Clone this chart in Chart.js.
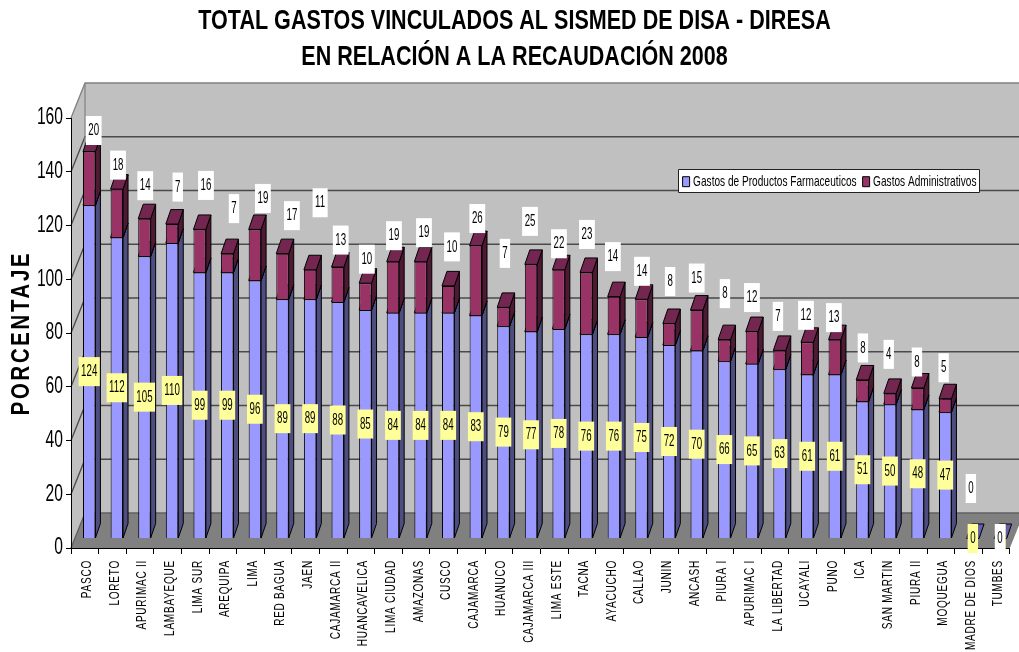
<!DOCTYPE html>
<html>
<head>
<meta charset="utf-8">
<style>html,body{margin:0;padding:0;background:#fff}canvas{display:block}</style>
<script src="https://cdn.jsdelivr.net/npm/chart.js@4/dist/chart.umd.min.js"></script>
</head>
<body>
<canvas id="c" width="1019" height="652"></canvas>
<script>
const categories = ["PASCO","LORETO","APURIMAC II","LAMBAYEQUE","LIMA SUR","AREQUIPA","LIMA","RED BAGUA","JAEN","CAJAMARCA II","HUANCAVELICA","LIMA CIUDAD","AMAZONAS","CUSCO","CAJAMARCA","HUANUCO","CAJAMARCA III","LIMA ESTE","TACNA","AYACUCHO","CALLAO","JUNIN","ANCASH","PIURA I","APURIMAC I","LA LIBERTAD","UCAYALI","PUNO","ICA","SAN MARTIN","PIURA II","MOQUEGUA","MADRE DE DIOS","TUMBES"];
const productos = [124,112,105,110,99,99,96,89,89,88,85,84,84,84,83,79,77,78,76,76,75,72,70,66,65,63,61,61,51,50,48,47,0,0];
const administrativos = [20,18,14,7,16,7,19,17,11,13,10,19,19,10,26,7,25,22,23,14,14,8,15,8,12,7,12,13,8,4,8,5,0,0];
const titleLines = ["TOTAL GASTOS VINCULADOS AL SISMED DE DISA - DIRESA","EN RELACIÓN A LA RECAUDACIÓN 2008"];
const seriesNames = ["Gastos de Productos Farmaceuticos","Gastos Administrativos"];
const yTitle = "PORCENTAJE";

// layout-only: hand placement of the white labels relative to the top of each stack
const labelLift = [21,24,33,37,44,45,31,38,67,27,24,26,29,39,27,54,43,26,38,40,28,42,32,46,34,34,27,22,32,39,26,31,50,0];
const labelNudge = [4.5,1.2,.8,5.7,6.3,6.7,8,9.4,10,3,1.5,1,3.4,3.8,1.5,1.5,-1,.3,.7,-1,.5,1,0,.6,0,-1.6,-1.2,-.9,.5,-1.3,-.7,-1.6,-2,-.5];

const FONT = '"Liberation Sans",sans-serif';
const WALL = {dx:14, dy:-35};          // depth of the box
const BAR = {sx:4.4, sy:-9.5, dx:5, dy:-14.5}; // bar placement inside the box
const TEXT_FIT = { // by font px: horizontal condensation, letter spacing, shifts
  28:{k:.77}, 23:{k:.68}, 26:{k:.78, ls:'3.5px'}, 14:{k:.72, ls:'1px', dy:2.5}, 17:{k:.57}, 15:{k:.674, dx:-4}
};
const fitFor = ctx => { const m = ctx.font.match(/([\d.]+)px/); return (m && TEXT_FIT[+m[1]]) || {k:1}; };

const depthPlugin = {
  id:'depth',
  beforeInit(chart){
    const ctx = chart.ctx, ft = ctx.fillText.bind(ctx), mt = ctx.measureText.bind(ctx);
    ctx.fillText = (t,x,y) => {
      const f = fitFor(ctx);
      ctx.save();
      ctx.translate(x+(f.dx||0),y+(f.dy||0));
      ctx.scale(f.k,1);
      if (f.ls) ctx.letterSpacing = f.ls;
      ft(t,0,0);
      ctx.restore();
    };
    ctx.measureText = t => {
      const f = fitFor(ctx);
      if (f.ls) ctx.letterSpacing = f.ls;
      const w = mt(t).width*f.k;
      if (f.ls) ctx.letterSpacing = '0px';
      return {width:w};
    };
  },
  beforeLayout(chart){ chart.legend.isHorizontal = () => true; },
  afterLayout(chart){
    const l = chart.legend;
    const w = l.right-l.left;
    l.left = 680.6; l.right = l.left+w; l.top = 172.2; l.bottom = l.top+l.height;
  },
  beforeDraw(chart){
    const {ctx, chartArea:a, scales:{y}} = chart, W = chart.width;
    ctx.save();
    const b = a.bottom, t = a.top, l = a.left, r = a.right, {dx,dy} = WALL;
    // back wall
    ctx.fillStyle = '#c0c0c0';
    ctx.fillRect(l+dx,t+dy,W-l-dx,b-t);
    // side wall
    ctx.beginPath();ctx.moveTo(l,b);ctx.lineTo(l+dx,b+dy);ctx.lineTo(l+dx,t+dy);ctx.lineTo(l,t);ctx.closePath();ctx.fill();
    // floor
    ctx.fillStyle = '#808080';
    ctx.beginPath();ctx.moveTo(l,b);ctx.lineTo(l+dx,b+dy);ctx.lineTo(r+dx,b+dy);ctx.lineTo(r,b);ctx.closePath();ctx.fill();
    // gridlines on the wall from the axis ticks
    y.ticks.forEach(tk => {
      const py = y.getPixelForValue(tk.value);
      ctx.strokeStyle = tk.value===160 ? '#808080' : '#4a4a4a';
      ctx.lineWidth = 1.3;
      ctx.beginPath();
      ctx.moveTo(l,py);ctx.lineTo(l+dx,py+dy);
      if (tk.value===0) { ctx.strokeStyle='#606060'; }
      ctx.lineTo(W,py+dy);
      ctx.stroke();
    });
    ctx.strokeStyle='#808080';ctx.lineWidth=1.2;
    ctx.beginPath();ctx.moveTo(l+dx,t+dy);ctx.lineTo(l+dx,b+dy);ctx.stroke();
    // legend card
    ctx.fillStyle='#fff';ctx.strokeStyle='#222';ctx.lineWidth=1;
    ctx.beginPath();ctx.rect(678.5,169.5,301,23);ctx.fill();ctx.stroke();
    ctx.restore();
  },
  beforeDatasetsDraw(chart){
    const ctx = chart.ctx;
    const faces = [{side:'#4d4d80',top:'#6060a8'},{side:'#4d1933',top:'#732650'}];
    ctx.save();
    ctx.strokeStyle='#000';ctx.lineWidth=1;ctx.lineJoin='round';
    [0,1].forEach(ds => {
      chart.getDatasetMeta(ds).data.forEach((el,i) => {
        const v = chart.data.datasets[ds].data[i];
        if (ds===1 && v===0) return;
        const p = el.getProps(['x','y','base','width'],true);
        const L = p.x-p.width/2+BAR.sx, R = p.x+p.width/2+BAR.sx, T = p.y+BAR.sy, B = p.base+BAR.sy;
        if (v>0){
          ctx.fillStyle = faces[ds].side;
          ctx.beginPath();ctx.moveTo(R,B);ctx.lineTo(R+BAR.dx,B+BAR.dy);ctx.lineTo(R+BAR.dx,T+BAR.dy);ctx.lineTo(R,T);ctx.closePath();ctx.fill();ctx.stroke();
        }
        ctx.fillStyle = faces[ds].top;
        ctx.beginPath();ctx.moveTo(L,T);ctx.lineTo(L+BAR.dx,T+BAR.dy);ctx.lineTo(R+BAR.dx,T+BAR.dy);ctx.lineTo(R,T);ctx.closePath();ctx.fill();ctx.stroke();
      });
    });
    ctx.restore();
  },
  beforeDatasetDraw(chart){ chart.ctx.save(); chart.ctx.translate(BAR.sx,BAR.sy); },
  afterDatasetDraw(chart){ chart.ctx.restore(); },
  afterDatasetsDraw(chart){
    const ctx = chart.ctx, top = chart.getDatasetMeta(1).data, low = chart.getDatasetMeta(0).data;
    const box = (txt,cx,cy,color) => {
      ctx.font = '17px '+FONT;
      const w = ctx.measureText(txt).width+5;
      ctx.fillStyle = color;
      ctx.fillRect(cx-w/2,cy-14.5,w,29);
      ctx.fillStyle = '#000';
      ctx.textAlign='center';ctx.textBaseline='middle';
      ctx.fillText(txt,cx,cy);
    };
    ctx.save();
    low.forEach((el,i) => {
      const p = el.getProps(['x','y','base'],true);
      box(String(productos[i]),p.x+BAR.sx,(p.y+p.base)/2+BAR.sy,'#ffff99');
    });
    top.forEach((el,i) => {
      const p = el.getProps(['x','y'],true);
      box(String(administrativos[i]),p.x+BAR.sx+labelNudge[i],p.y+BAR.sy-labelLift[i],'#fff');
    });
    ctx.restore();
  }
};

new Chart(document.getElementById('c'),{
  type:'bar',
  data:{labels:categories,datasets:[
    {label:seriesNames[0],data:productos,backgroundColor:'#9999ff',borderColor:'#000',borderWidth:1,clip:false},
    {label:seriesNames[1],data:administrativos,backgroundColor:'#993366',borderColor:'#000',borderWidth:1,clip:false}
  ]},
  options:{
    responsive:false,animation:false,
    layout:{padding:{left:19,right:9,top:0,bottom:0}},
    datasets:{bar:{barPercentage:.45,categoryPercentage:1}},
    plugins:{
      tooltip:{enabled:false},
      title:{display:true,text:titleLines,color:'#000',font:{family:FONT,size:28,weight:'bold',lineHeight:36/28},padding:{top:3,bottom:43}},
      legend:{position:'chartArea',align:'start',labels:{boxWidth:7,boxHeight:10,padding:2,color:'#000',font:{family:FONT,size:15}}}
    },
    scales:{
      x:{stacked:true,offset:true,
        grid:{drawOnChartArea:false,drawTicks:true,tickLength:6,color:'#000',offset:true},
        border:{display:true,color:'#000',width:1},
        ticks:{autoSkip:false,minRotation:90,maxRotation:90,padding:6,color:'#000',font:{family:FONT,size:14}},
        afterFit(s){s.height=104;}},
      y:{stacked:true,min:0,max:160,
        grid:{drawOnChartArea:false,drawTicks:true,tickLength:5,color:'#000'},
        border:{display:true,color:'#000',width:1},
        title:{display:true,text:yTitle,color:'#000',font:{family:FONT,size:26,weight:'bold'},padding:{top:-12.5,bottom:0}},
        ticks:{stepSize:20,padding:3,color:'#000',font:{family:FONT,size:23}},
        afterFit(s){s.width=52;}}
    }
  },
  plugins:[depthPlugin]
});
</script>
</body>
</html>
